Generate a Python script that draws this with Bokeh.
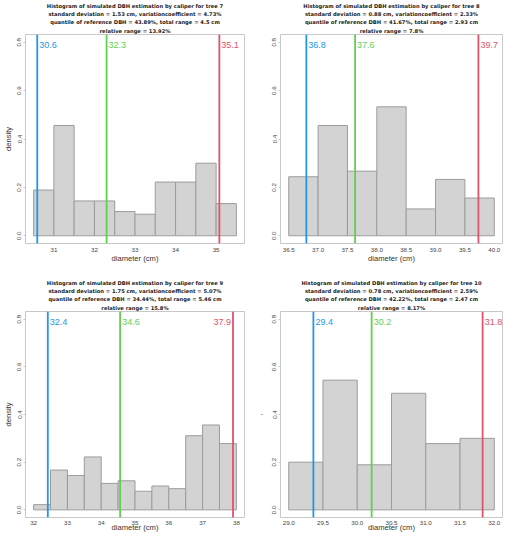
from bokeh.plotting import figure
from bokeh.layouts import gridplot
from bokeh.models import Span, FixedTicker, Range1d, Title
from bokeh.core.properties import value
from bokeh.embed import file_html
from bokeh.resources import INLINE

FONT = "Liberation Sans"
TFONT = "DejaVu Sans"

# ---------------- data ----------------
tree7_breaks = [30.5, 31.0, 31.5, 32.0, 32.5, 33.0, 33.5, 34.0, 34.5, 35.0, 35.5]
tree7_density = [0.189, 0.456, 0.144, 0.144, 0.100, 0.089, 0.222, 0.222, 0.300, 0.133]
tree7_lines = [30.59, 32.30, 35.08]
tree7_labels = ["30.6", "32.3", "35.1"]
tree7_xticks = [31, 32, 33, 34, 35]
tree7_xtick_labels = ["31", "32", "33", "34", "35"]
tree7_title = ["Histogram of simulated DBH estimation by caliper for tree 7",
               "standard deviation = 1.53 cm, variationcoefficient = 4.73%",
               "quantile of reference DBH = 43.89%, total range = 4.5 cm",
               "relative range = 13.92%"]

tree8_breaks = [36.5, 37.0, 37.5, 38.0, 38.5, 39.0, 39.5, 40.0]
tree8_density = [0.244, 0.456, 0.267, 0.533, 0.111, 0.233, 0.156]
tree8_lines = [36.80, 37.63, 39.73]
tree8_labels = ["36.8", "37.6", "39.7"]
tree8_xticks = [36.5, 37.0, 37.5, 38.0, 38.5, 39.0, 39.5, 40.0]
tree8_xtick_labels = ["36.5", "37.0", "37.5", "38.0", "38.5", "39.0", "39.5", "40.0"]
tree8_title = ["Histogram of simulated DBH estimation by caliper for tree 8",
               "standard deviation = 0.88 cm, variationcoefficient = 2.33%",
               "quantile of reference DBH = 41.67%, total range = 2.93 cm",
               "relative range = 7.8%"]

tree9_breaks = [32.0, 32.5, 33.0, 33.5, 34.0, 34.5, 35.0, 35.5, 36.0, 36.5, 37.0, 37.5, 38.0]
tree9_density = [0.022, 0.167, 0.144, 0.222, 0.111, 0.122, 0.078, 0.100, 0.089, 0.311, 0.356, 0.278]
tree9_lines = [32.42, 34.56, 37.90]
tree9_labels = ["32.4", "34.6", "37.9"]
tree9_xticks = [32, 33, 34, 35, 36, 37, 38]
tree9_xtick_labels = ["32", "33", "34", "35", "36", "37", "38"]
tree9_title = ["Histogram of simulated DBH estimation by caliper for tree 9",
               "standard deviation = 1.75 cm, variationcoefficient = 5.07%",
               "quantile of reference DBH = 34.44%, total range = 5.46 cm",
               "relative range = 15.8%"]

tree10_breaks = [29.0, 29.5, 30.0, 30.5, 31.0, 31.5, 32.0]
tree10_density = [0.200, 0.544, 0.189, 0.489, 0.278, 0.300]
tree10_lines = [29.36, 30.21, 31.83]
tree10_labels = ["29.4", "30.2", "31.8"]
tree10_xticks = [29.0, 29.5, 30.0, 30.5, 31.0, 31.5, 32.0]
tree10_xtick_labels = ["29.0", "29.5", "30.0", "30.5", "31.0", "31.5", "32.0"]
tree10_title = ["Histogram of simulated DBH estimation by caliper for tree 10",
                "standard deviation = 0.78 cm, variationcoefficient = 2.59%",
                "quantile of reference DBH = 42.22%, total range = 2.47 cm",
                "relative range = 8.17%"]

yticks = [0.0, 0.2, 0.4, 0.6, 0.8]
ytick_labels = ["0.0", "0.2", "0.4", "0.6", "0.8"]
line_colors = ["#2297E6", "#61D04F", "#DF536B"]


def panel(breaks, density, lines, labels, xticks, xtick_labels, title_lines,
          ylabel, width, height, bl, br, bt, bb, label_sides, xls, xas):
    lo, hi = breaks[0], breaks[-1]
    pad = 0.04 * (hi - lo)
    ylo, yhi = 0.0, 0.8
    ypad = 0.04 * (yhi - ylo)
    p = figure(width=width, height=height, output_backend="svg",
               toolbar_location=None, tools="", title=None,
               x_range=Range1d(lo - pad, hi + pad),
               y_range=Range1d(ylo - ypad, yhi + ypad),
               min_border_left=bl, min_border_right=br,
               min_border_top=bt, min_border_bottom=bb)
    for i, line in enumerate(reversed(title_lines)):
        t = Title(text=line, align="center", text_font=TFONT,
                  text_font_size="5.2px", text_font_style="bold",
                  text_color="#1a1a1a", standoff=2 if i == 0 else -0.2,
                  offset=0)
        p.add_layout(t, "above")

    p.quad(left=breaks[:-1], right=breaks[1:], bottom=0, top=density,
           fill_color="#D3D3D3", line_color="#9C9C9C", line_width=1)

    for x, lab, col, side in zip(lines, labels, line_colors, label_sides):
        p.add_layout(Span(location=x, dimension="height", line_color=col,
                          line_width=1.8))
        p.text(x=[x], y=[0.79], text=[lab], text_color=col,
               text_font=value(FONT), text_font_size="9px",
               text_baseline="middle",
               text_align="left" if side == "r" else "right",
               x_offset=2 if side == "r" else -2)

    p.grid.visible = False
    p.outline_line_color = "#C8C8C8"
    p.outline_line_width = 1
    p.background_fill_color = "white"

    p.xaxis.ticker = FixedTicker(ticks=xticks)
    p.xaxis.major_label_overrides = {t: l for t, l in zip(xticks, xtick_labels)}
    p.yaxis.ticker = FixedTicker(ticks=yticks)
    p.yaxis.major_label_overrides = {t: l for t, l in zip(yticks, ytick_labels)}
    p.yaxis.major_label_orientation = "vertical"

    for ax in (p.xaxis[0], p.yaxis[0]):
        ax.axis_line_color = None
        ax.major_tick_line_color = "#C8C8C8"
        ax.major_tick_in = 0
        ax.minor_tick_line_color = None
        ax.major_label_text_font = FONT
        ax.major_label_text_font_size = "6.2px"
        ax.major_label_text_color = "#444444"
        ax.axis_label_text_font = FONT
        ax.axis_label_text_font_size = "7.6px"
        ax.axis_label_text_font_style = "normal"
        ax.axis_label_text_color = "#333333"
    p.xaxis.major_tick_out = 0
    p.yaxis.major_tick_out = 2
    p.xaxis.major_label_standoff = xls
    p.xaxis.axis_label_standoff = xas
    p.xaxis.axis_label = "diameter (cm)"
    p.yaxis.major_label_standoff = 2
    p.yaxis.axis_label_standoff = 2
    if ylabel:
        p.yaxis.axis_label = ylabel
    return p


p7 = panel(tree7_breaks, tree7_density, tree7_lines, tree7_labels, tree7_xticks,
           tree7_xtick_labels, tree7_title, "density", 254, 277, 22, 10, 24, 34,
           ["r", "r", "r"], 4, -1)
p8 = panel(tree8_breaks, tree8_density, tree8_lines, tree8_labels, tree8_xticks,
           tree8_xtick_labels, tree8_title, None, 254, 277, 26, 6, 24, 34,
           ["r", "r", "r"], 4, -1)
p9 = panel(tree9_breaks, tree9_density, tree9_lines, tree9_labels, tree9_xticks,
           tree9_xtick_labels, tree9_title, "density", 254, 257, 22, 10, 26, 4,
           ["r", "r", "l"], 3, -5)
p10 = panel(tree10_breaks, tree10_density, tree10_lines, tree10_labels, tree10_xticks,
            tree10_xtick_labels, tree10_title, "'", 254, 257, 26, 6, 26, 4,
            ["r", "r", "r"], 3, -5)

grid = gridplot([[p7, p8], [p9, p10]], toolbar_location=None)

open("out.html", "w").write(file_html(grid, INLINE))
